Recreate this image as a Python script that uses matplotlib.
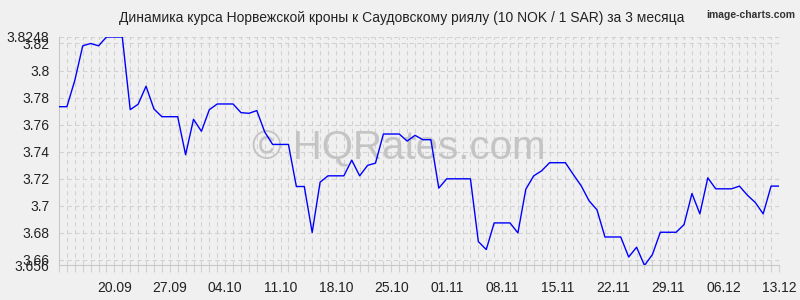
import matplotlib
matplotlib.use("Agg")
import matplotlib.pyplot as plt
import matplotlib.dates as mdates
import numpy as np
import pandas as pd

plt.rcParams['font.family'] = ['Liberation Sans', 'DejaVu Sans']

title = "Динамика курса Норвежской кроны к Саудовскому риялу (10 NOK / 1 SAR) за 3 месяца"

# daily rate, 13.09 .. 13.12
start_date = "2025-09-13"
end_date = "2025-12-13"
rates = [
    3.7733, 3.7733, 3.7928, 3.8183, 3.8200, 3.8183, 3.8248, 3.8248, 3.8248, 3.7711,
    3.7751, 3.7884, 3.7716, 3.7659, 3.7659, 3.7659, 3.7378, 3.7640, 3.7551, 3.7711,
    3.7753, 3.7753, 3.7753, 3.7689, 3.7684, 3.7704, 3.7546, 3.7454, 3.7454, 3.7454,
    3.7143, 3.7143, 3.6803, 3.7175, 3.7222, 3.7222, 3.7222, 3.7338, 3.7222, 3.7299,
    3.7316, 3.7531, 3.7531, 3.7531, 3.7479, 3.7521, 3.7489, 3.7489, 3.7131, 3.7200,
    3.7200, 3.7200, 3.7200, 3.6736, 3.6677, 3.6874, 3.6874, 3.6874, 3.6800, 3.7123,
    3.7222, 3.7259, 3.7319, 3.7319, 3.7319, 3.7232, 3.7148, 3.7037, 3.6970, 3.6770,
    3.6770, 3.6770, 3.6622, 3.6694, 3.6560, 3.6640, 3.6805, 3.6805, 3.6805, 3.6862,
    3.7091, 3.6941, 3.7207, 3.7126, 3.7126, 3.7126, 3.7146, 3.7079, 3.7025, 3.6941,
    3.7146, 3.7146,
]
tick_dates = ["2025-09-20", "2025-09-27", "2025-10-04", "2025-10-11", "2025-10-18",
              "2025-10-25", "2025-11-01", "2025-11-08", "2025-11-15", "2025-11-22",
              "2025-11-29", "2025-12-06", "2025-12-13"]
y_ticks = [3.66, 3.68, 3.70, 3.72, 3.74, 3.76, 3.78, 3.80, 3.82]
y_tick_labels = ["3.66", "3.68", "3.7", "3.72", "3.74", "3.76", "3.78", "3.8", "3.82"]

days = pd.date_range(start_date, end_date, freq="D")
lo, hi = min(rates), max(rates)

bg = "#f0f0f0"
grid_c = "#d2d2d2"

fig = plt.figure(figsize=(8, 3), dpi=100, facecolor=bg)
ax = fig.add_axes([59/800, 1-265.4/300, 720/800, 228.4/300])
ax.set_facecolor(bg)

ax.plot(days, rates, color="#0000ff", lw=1.0, zorder=3)

ax.set_xlim(days[0], days[-1])
ax.set_ylim(lo, hi)

ax.set_yticks([lo] + y_ticks + [hi])
ax.set_yticklabels(["%.3f" % lo] + y_tick_labels + ["%.4f" % hi])
ax.set_xticks(pd.to_datetime(tick_dates))
ax.xaxis.set_major_formatter(mdates.DateFormatter("%d.%m"))
ax.set_xticks(days, minor=True)

# dashed grid: days vertically, ticks horizontally
for d in days[1:]:
    ax.axvline(d, color=grid_c, lw=0.8, ls=(0, (4, 3)), zorder=1)
for v in y_ticks + [hi]:
    ax.axhline(v, color=grid_c, lw=0.8, ls=(0, (4, 3)), zorder=1)

for s in ["top", "right"]:
    ax.spines[s].set_visible(False)
ax.spines["left"].set_color("#c8c8c8")
ax.spines["bottom"].set_color("#c8c8c8")
ax.spines["left"].set_linewidth(0.8)
ax.spines["bottom"].set_linewidth(0.8)

ax.tick_params(axis="y", length=0, pad=7, labelsize=10, labelcolor="#222222")
ax.tick_params(axis="x", which="both", length=5, color="#d0d0d0", width=0.8,
               pad=6, labelsize=10, labelcolor="#222222")

ax.text(0.472, 0.514, "© HQRates.com", transform=ax.transAxes, fontsize=29,
        color="#c4c4c4", ha="center", va="center", zorder=2)

fig.text(0.5025, 0.94, title, ha="center", va="center", fontsize=10, color="#222222")
fig.text(0.994, 0.95, "image-charts.com", ha="right", va="center", fontsize=7.5,
         fontweight="bold", color="#333333")

fig.savefig("out.png", dpi=100, facecolor=bg)
